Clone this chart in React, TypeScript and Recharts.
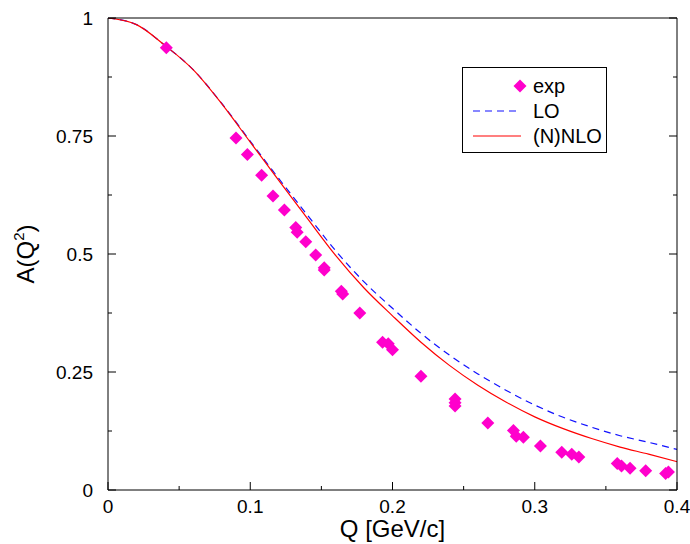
import React from "react";
import {
  ComposedChart,
  Line,
  Scatter,
  XAxis,
  YAxis,
  Legend,
  Label,
} from "recharts";

// theory curves, sampled on a Q grid [GeV/c]
const Q_GRID = [
  0, 0.02, 0.04, 0.06, 0.08, 0.1, 0.12, 0.14, 0.16, 0.18, 0.2, 0.22, 0.24,
  0.26, 0.28, 0.3, 0.32, 0.34, 0.36, 0.38, 0.4,
];
const A_LO = [
  1.0, 0.986, 0.942, 0.89, 0.819, 0.739, 0.66, 0.583, 0.507, 0.441, 0.385,
  0.332, 0.286, 0.246, 0.211, 0.18, 0.154, 0.133, 0.115, 0.101, 0.086,
];
const A_NLO = [
  1.0, 0.986, 0.942, 0.89, 0.818, 0.737, 0.656, 0.576, 0.497, 0.428, 0.369,
  0.313, 0.264, 0.222, 0.186, 0.155, 0.13, 0.109, 0.091, 0.076, 0.06,
];

// experimental points
const EXP_Q = [
  0.041, 0.09, 0.098, 0.108, 0.116, 0.124, 0.132, 0.133, 0.139, 0.146, 0.152,
  0.152, 0.164, 0.165, 0.177, 0.193, 0.197, 0.2, 0.22, 0.244, 0.244, 0.244,
  0.267, 0.285, 0.287, 0.292, 0.304, 0.319, 0.326, 0.331, 0.358, 0.361, 0.367,
  0.378, 0.392, 0.394,
];
const EXP_A = [
  0.937, 0.746, 0.711, 0.667, 0.623, 0.593, 0.556, 0.546, 0.526, 0.498, 0.471,
  0.466, 0.421, 0.415, 0.375, 0.313, 0.31, 0.297, 0.241, 0.193, 0.185, 0.178,
  0.142, 0.126, 0.114, 0.112, 0.093, 0.08, 0.076, 0.07, 0.056, 0.051, 0.046,
  0.041, 0.035, 0.038,
];

const X_TICKS = [0, 0.05, 0.1, 0.15, 0.2, 0.25, 0.3, 0.35, 0.4];
const X_LABELED = [0, 0.1, 0.2, 0.3, 0.4];
const Y_TICKS = [0, 0.125, 0.25, 0.375, 0.5, 0.625, 0.75, 0.875, 1];
const Y_LABELED = [0, 0.25, 0.5, 0.75, 1];

const FONT = '"Liberation Sans", Arial, Helvetica, sans-serif';
const INK = "#000";
const MAGENTA = "#ff00cc";
const BLUE = "#1010ff";
const RED = "#ff0000";
const MAJOR = 8;
const MINOR = 4;

const isIn = (v: number, arr: number[]) =>
  arr.some((t) => Math.abs(t - v) < 1e-9);

const curveData = Q_GRID.map((q, i) => ({ q, lo: A_LO[i], nlo: A_NLO[i] }));
const expData = EXP_Q.map((q, i) => ({ q, a: EXP_A[i] }));

const bottomTick = (p: any) => {
  const { x, y, payload } = p;
  const major = isIn(payload.value, X_LABELED);
  return (
    <g>
      <line x1={x} x2={x} y1={y} y2={y - (major ? MAJOR : MINOR)} stroke={INK} />
      {major && (
        <text x={x} y={y + 23} textAnchor="middle" fontSize={19} fontFamily={FONT} fill={INK}>
          {String(payload.value)}
        </text>
      )}
    </g>
  );
};

const topTick = (p: any) => {
  const { x, y, payload } = p;
  const major = isIn(payload.value, X_LABELED);
  return <line x1={x} x2={x} y1={y} y2={y + (major ? MAJOR : MINOR)} stroke={INK} />;
};

const leftTick = (p: any) => {
  const { x, y, payload } = p;
  const major = isIn(payload.value, Y_LABELED);
  return (
    <g>
      <line x1={x} x2={x + (major ? MAJOR : MINOR)} y1={y} y2={y} stroke={INK} />
      {major && (
        <text x={x - 15} y={y + 7} textAnchor="end" fontSize={19} fontFamily={FONT} fill={INK}>
          {String(payload.value)}
        </text>
      )}
    </g>
  );
};

const rightTick = (p: any) => {
  const { x, y, payload } = p;
  const major = isIn(payload.value, Y_LABELED);
  return <line x1={x} x2={x - (major ? MAJOR : MINOR)} y1={y} y2={y} stroke={INK} />;
};

const Diamond = (p: any) => {
  const { cx, cy } = p;
  const r = 6.5;
  return (
    <polygon
      points={`${cx},${cy - r} ${cx + r},${cy} ${cx},${cy + r} ${cx - r},${cy}`}
      fill={MAGENTA}
    />
  );
};

const XTitle = (p: any) => {
  const vb = p.viewBox || { x: 108, y: 490, width: 569, height: 54 };
  return (
    <text x={vb.x + vb.width / 2} y={vb.y + 47} textAnchor="middle" fontSize={24} fontFamily={FONT} fill={INK}>
      Q [GeV/c]
    </text>
  );
};

const YTitle = (p: any) => {
  const vb = p.viewBox || { x: 0, y: 18, width: 108, height: 472 };
  const cx = vb.x + 34;
  const cy = vb.y + vb.height / 2;
  return (
    <text
      x={cx}
      y={cy}
      transform={`rotate(-90 ${cx} ${cy})`}
      textAnchor="middle"
      fontSize={24}
      fontFamily={FONT}
      fill={INK}
    >
      A(Q
      <tspan dy={-10} fontSize={15}>2</tspan>
      <tspan dy={10}>)</tspan>
    </text>
  );
};

const LegendBox = () => (
  <svg width={145} height={86} style={{ display: "block" }}>
    <rect x={0.5} y={0.5} width={144} height={85} fill="#fff" stroke={INK} />
    <polygon points="58,12.5 64.5,19 58,25.5 51.5,19" fill={MAGENTA} />
    <line x1={11} x2={59} y1={44} y2={44} stroke={BLUE} strokeWidth={1.2} strokeDasharray="7 5" />
    <line x1={11} x2={59} y1={69} y2={69} stroke={RED} strokeWidth={1.2} />
    <g fontSize={20} fontFamily={FONT} fill={INK}>
      <text x={71} y={26}>exp</text>
      <text x={71} y={51}>LO</text>
      <text x={71} y={76}>(N)NLO</text>
    </g>
  </svg>
);

export default function App() {
  return (
    <div style={{ position: "absolute", left: 0, top: 0, background: "#fff" }}>
      <ComposedChart width={690} height={544} margin={{ top: 0, right: 0, bottom: 0, left: 0 }}>
        <XAxis
          dataKey="q"
          type="number"
          domain={[0, 0.4]}
          ticks={X_TICKS}
          interval={0}
          allowDataOverflow
          height={54}
          tickSize={0}
          tickMargin={0}
          tickLine={false}
          axisLine={{ stroke: INK }}
          tick={bottomTick}
        >
          <Label content={XTitle} />
        </XAxis>
        <XAxis
          xAxisId="top"
          orientation="top"
          type="number"
          domain={[0, 0.4]}
          ticks={X_TICKS}
          interval={0}
          allowDataOverflow
          height={18}
          tickSize={0}
          tickMargin={0}
          tickLine={false}
          axisLine={{ stroke: INK }}
          tick={topTick}
        />
        <YAxis
          type="number"
          domain={[0, 1]}
          ticks={Y_TICKS}
          interval={0}
          allowDataOverflow
          width={108}
          tickSize={0}
          tickMargin={0}
          tickLine={false}
          axisLine={{ stroke: INK }}
          tick={leftTick}
        >
          <Label content={YTitle} />
        </YAxis>
        <YAxis
          yAxisId="right"
          orientation="right"
          type="number"
          domain={[0, 1]}
          ticks={Y_TICKS}
          interval={0}
          allowDataOverflow
          width={13}
          tickSize={0}
          tickMargin={0}
          tickLine={false}
          axisLine={{ stroke: INK }}
          tick={rightTick}
        />
        <Line
          data={curveData}
          dataKey="lo"
          type="monotone"
          stroke={BLUE}
          strokeWidth={1.2}
          strokeDasharray="7 5"
          dot={false}
          activeDot={false}
          isAnimationActive={false}
        />
        <Line
          data={curveData}
          dataKey="nlo"
          type="monotone"
          stroke={RED}
          strokeWidth={1.2}
          dot={false}
          activeDot={false}
          isAnimationActive={false}
        />
        <Scatter
          data={expData}
          dataKey="a"
          shape={Diamond}
          isAnimationActive={false}
        />
        <Legend
          layout="horizontal"
          verticalAlign="middle"
          align="center"
          wrapperStyle={{ left: 462, top: 67, width: 145, height: 86 }}
          content={() => <LegendBox />}
        />
      </ComposedChart>
    </div>
  );
}
